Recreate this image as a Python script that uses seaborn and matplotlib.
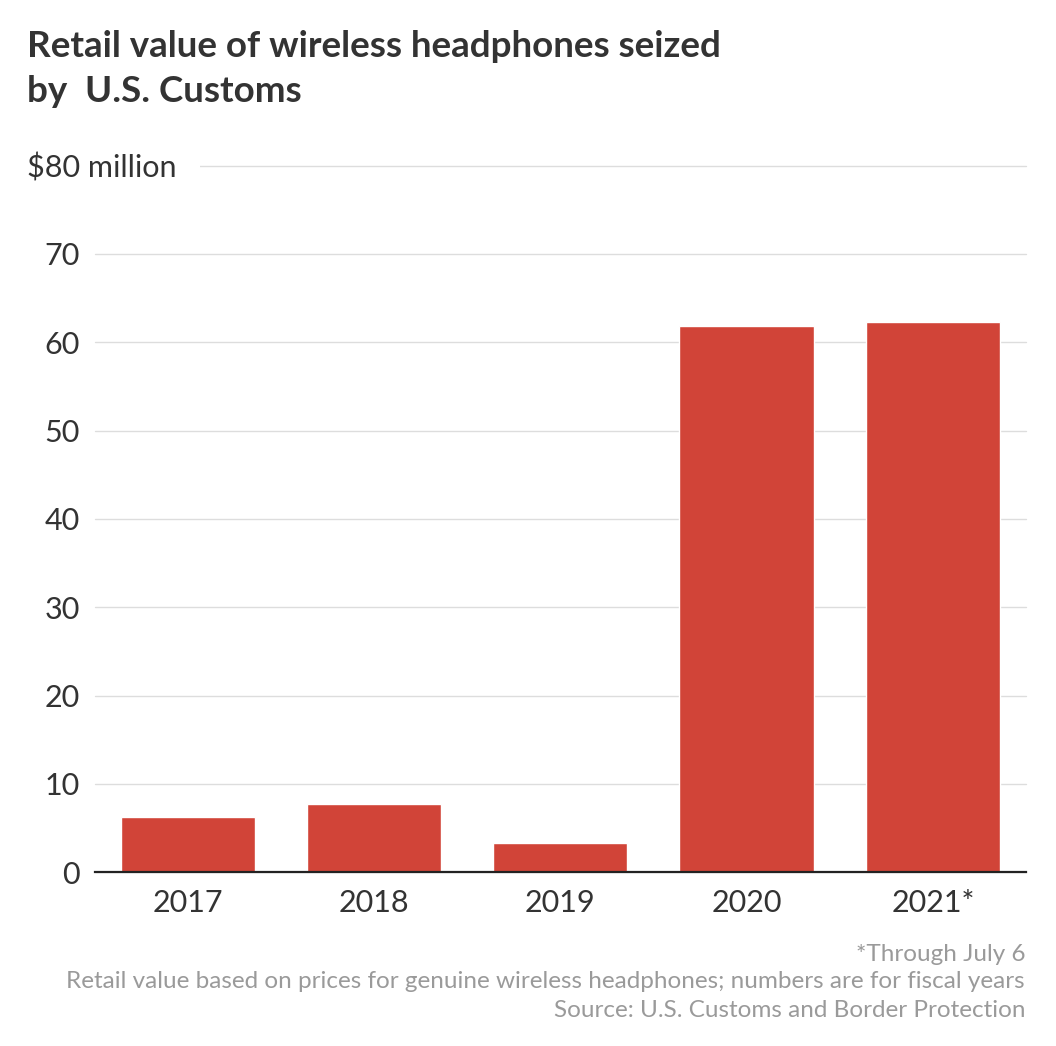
import matplotlib
matplotlib.use("Agg")
import matplotlib.pyplot as plt
import matplotlib.transforms as mtransforms
import seaborn as sns
import pandas as pd

years = ["2017", "2018", "2019", "2020", "2021*"]
values = [6.3, 7.75, 3.3, 61.8, 62.3]
yticks = [0, 10, 20, 30, 40, 50, 60, 70, 80]
ytick_labels = ["0", "10", "20", "30", "40", "50", "60", "70", ""]
top_label = "$80 million"

title_lines = ["Retail value of wireless headphones seized", "by  U.S. Customs"]
notes = ["*Through July 6",
         "Retail value based on prices for genuine wireless headphones; numbers are for fiscal years",
         "Source: U.S. Customs and Border Protection"]

sns.set_theme(style="white")
plt.rcParams['font.family'] = ['Lato', 'DejaVu Sans']

df = pd.DataFrame({"year": years, "value": values})

W, H = 1056, 1046
fig = plt.figure(figsize=(W / 100, H / 100), dpi=100)
ax = fig.add_axes([94.5 / W, 1 - 872.3 / H, (1026 - 94.5) / W, (872.3 - 165.6) / H])

sns.barplot(data=df, x="year", y="value", color="#D14438", saturation=1,
            width=0.72, ax=ax, zorder=3)
ax.set_xlim(-0.5, 4.5)
ax.set_ylim(0, 80)
ax.set_yticks(yticks)
ax.set_yticklabels(ytick_labels)
ax.set_xlabel("")
ax.set_ylabel("")
for s in ["top", "right", "left"]:
    ax.spines[s].set_visible(False)
ax.spines["bottom"].set_color("#222222")
ax.spines["bottom"].set_linewidth(1.6)
ax.spines["bottom"].set_zorder(4)
ax.grid(axis="y", color="#dddddd", linewidth=1.0, zorder=0)
ax.grid(axis="x", visible=False)
for gl in ax.get_ygridlines():
    gl.set_clip_on(False)
ax.tick_params(axis="both", length=0, labelsize=22, colors="#333333")
ax.tick_params(axis="x", pad=12)
ax.tick_params(axis="y", pad=10.5)

trans = mtransforms.blended_transform_factory(fig.transFigure, ax.transData)
ax.text(27 / W, 80, top_label, transform=trans, ha="left", va="center_baseline",
        fontsize=22, color="#333333", zorder=5, clip_on=False,
        bbox=dict(facecolor="white", edgecolor="none", pad=17))

for line, yb in zip(title_lines, [57, 102]):
    fig.text(27 / W, 1 - yb / H, line, ha="left", va="baseline", fontsize=26.5,
             fontweight="bold", color="#333333")

for t, yb in zip(notes, [961, 988, 1017]):
    fig.text(1025 / W, 1 - yb / H, t, ha="right", va="baseline", fontsize=17.5,
             color="#9a9a9a")

fig.savefig("out.png", dpi=100, facecolor="white")
